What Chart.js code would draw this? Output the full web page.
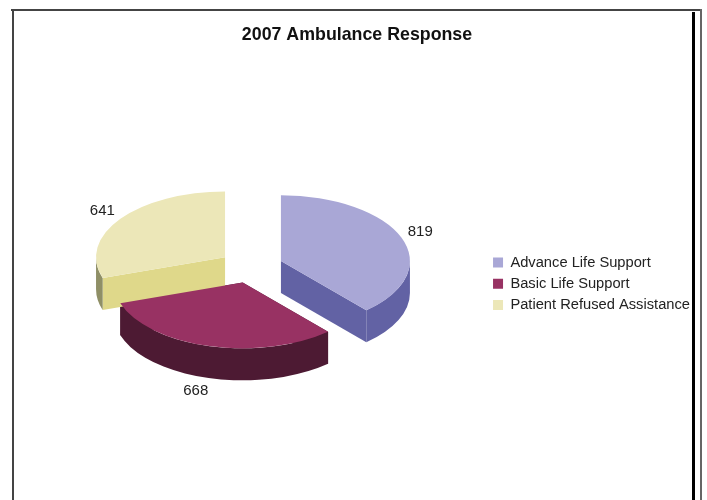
<!DOCTYPE html>
<html>
<head>
<meta charset="utf-8">
<style>
html,body{margin:0;padding:0;background:#fff;width:707px;height:500px;overflow:hidden}
#wrap{position:relative;width:707px;height:500px;filter:blur(0.7px)}
canvas{position:absolute;left:0;top:0}
.f{position:absolute}
</style>
<script src="https://cdn.jsdelivr.net/npm/chart.js@4"></script>
</head>
<body>
<div id="wrap">
<div class="f" style="left:11px;top:9px;width:691px;height:2px;background:#444"></div>
<div class="f" style="left:12px;top:9px;width:2px;height:491px;background:#444"></div>
<div class="f" style="left:692px;top:12px;width:3px;height:488px;background:#000"></div>
<div class="f" style="left:700px;top:9px;width:2px;height:491px;background:#666"></div>
<canvas id="c" width="707" height="500"></canvas>
</div>
<script>
const chartTitle = "2007 Ambulance Response";
const categories = ["Advance Life Support", "Basic Life Support", "Patient Refused Assistance"];
const responses = [819, 668, 641];
const topColors = ["#a9a7d6", "#983263", "#ece7b8"];
const wallColors = ["#6262a4", "#4d1a33", "#dfd88a"];
const rimColors = ["#6262a4", "#4d1a33", "#8f8f66"];

const SQUASH = 0.51, DEPTH = 32, EXPLODE = 32, TX = 251, TY = 266.8;
const TAU = Math.PI * 2;

function slice(arc) {
  const mid = (arc.startAngle + arc.endAngle) / 2;
  return {
    cx: TX + Math.cos(mid) * EXPLODE,
    cy: TY + Math.sin(mid) * EXPLODE * SQUASH,
    r: arc.outerRadius,
    mid
  };
}

const pie3d = {
  id: "pie3d",
  beforeDatasetDraw(chart) {
    const ctx = chart.ctx;
    const arcs = chart.getDatasetMeta(0).data;
    // sides first, in library-computed angles
    arcs.forEach((arc, i) => {
      const s = slice(arc);
      const ry = s.r * SQUASH;
      ctx.fillStyle = wallColors[i];
      [arc.startAngle, arc.endAngle].forEach(a => {
        const x = s.cx + Math.cos(a) * s.r, y = s.cy + Math.sin(a) * ry;
        ctx.beginPath();
        ctx.moveTo(s.cx, s.cy);
        ctx.lineTo(x, y);
        ctx.lineTo(x, y + DEPTH);
        ctx.lineTo(s.cx, s.cy + DEPTH);
        ctx.closePath();
        ctx.fill();
      });
      let a0 = arc.startAngle, a1 = arc.endAngle;
      while (a0 < -Math.PI / 2 - 1e-6) { a0 += TAU; a1 += TAU; }
      const from = Math.max(a0, 0), to = Math.min(a1, Math.PI);
      if (to > from) {
        ctx.fillStyle = rimColors[i];
        ctx.beginPath();
        ctx.ellipse(s.cx, s.cy, s.r, ry, 0, from, to);
        ctx.ellipse(s.cx, s.cy + DEPTH, s.r, ry, 0, to, from, true);
        ctx.closePath();
        ctx.fill();
      }
    });
    // top faces: the library's own arc elements, exploded and squashed
    arcs.forEach(arc => {
      const s = slice(arc);
      ctx.save();
      ctx.translate(s.cx, s.cy);
      ctx.scale(1, SQUASH);
      ctx.translate(-arc.x, -arc.y);
      arc.draw(ctx);
      ctx.restore();
    });
    // value labels
    ctx.fillStyle = "#222";
    ctx.font = "15px 'Liberation Sans'";
    ctx.textAlign = "center";
    ctx.textBaseline = "middle";
    arcs.forEach((arc, i) => {
      const s = slice(arc);
      const R = s.r + 21;
      const sn = Math.sin(s.mid);
      const front = sn > 0.5;
      const x = s.cx + Math.cos(s.mid) * R - (front ? 8 : 1);
      const y = s.cy + sn * R * SQUASH + (front ? DEPTH + 2 : -2);
      ctx.fillText(String(responses[i]), x, y);
    });
    return false;
  }
};

new Chart(document.getElementById("c"), {
  type: "pie",
  data: {
    labels: categories,
    datasets: [{
      data: responses,
      backgroundColor: topColors,
      borderWidth: 0,
      radius: 129
    }]
  },
  plugins: [pie3d],
  options: {
    responsive: false,
    animation: false,
    events: [],
    layout: { padding: { left: 14, right: 7, top: 10, bottom: 0 } },
    plugins: {
      tooltip: { enabled: false },
      title: {
        display: true,
        text: chartTitle,
        color: "#111",
        font: { family: "'Liberation Sans'", size: 17.8, weight: "bold" },
        padding: { top: 14, bottom: 22 }
      },
      legend: {
        position: "right",
        align: "center",
        fullSize: false,
        labels: {
          color: "#222",
          boxWidth: 10,
          boxHeight: 10,
          padding: 6.5,
          font: { family: "'Liberation Sans'", size: 14.7 }
        }
      }
    }
  }
});
</script>
</body>
</html>
